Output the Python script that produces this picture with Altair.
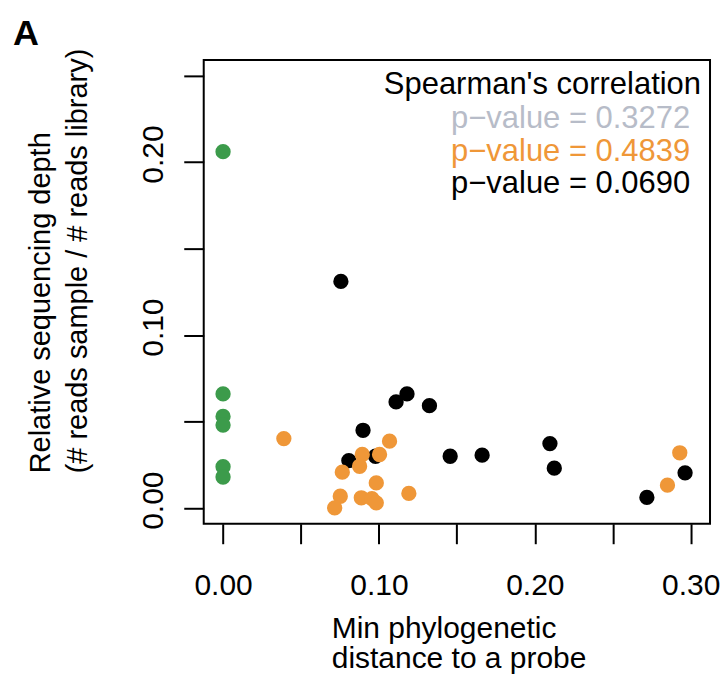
import altair as alt
import pandas as pd

FONT = "Liberation Sans"

# ---- data ----
black_x = [0.0756, 0.0898, 0.0807, 0.0978, 0.111, 0.118, 0.1324, 0.1457, 0.1662, 0.2097, 0.2125, 0.2719, 0.2964]
black_y = [0.131, 0.045, 0.0275, 0.030, 0.0614, 0.066, 0.0592, 0.030, 0.0306, 0.0373, 0.0231, 0.0062, 0.0204]

orange_x = [0.039, 0.1068, 0.1004, 0.0893, 0.0876, 0.0765, 0.0983, 0.0752, 0.0716, 0.0887, 0.0955, 0.0983, 0.1192, 0.293, 0.2851]
orange_y = [0.0402, 0.0387, 0.031, 0.031, 0.0242, 0.0208, 0.0146, 0.0069, 0.0002, 0.006, 0.0055, 0.0031, 0.0085, 0.032, 0.0133]

green_x = [0.0, 0.0, 0.0, 0.0, 0.0, 0.0]
green_y = [0.206, 0.066, 0.053, 0.048, 0.024, 0.018]

series_names = ["black", "orange", "green"]
series_colors = ["#000000", "#ef9738", "#3c9b4b"]

x_ticks = [0.0, 0.05, 0.10, 0.15, 0.20, 0.25, 0.30]
x_labels = ["0.00", "", "0.10", "", "0.20", "", "0.30"]
y_ticks = [0.0, 0.05, 0.10, 0.15, 0.20, 0.25]
y_labels = ["0.00", "", "0.10", "", "0.20", ""]

legend_title = "Spearman's correlation"
legend_lines = ["p\u2212value = 0.3272", "p\u2212value = 0.4839", "p\u2212value = 0.0690"]
legend_colors = ["#b7bcc8", "#ef9738", "#000000"]

x_title = ["Min phylogenetic", "distance to a probe"]
y_title = ["Relative sequencing depth", "(# reads sample / # reads library)"]

# ---- build table ----
rows = []
for name, xs, ys in zip(series_names, [black_x, orange_x, green_x], [black_y, orange_y, green_y]):
    for xv, yv in zip(xs, ys):
        rows.append({"x": xv, "y": yv, "series": name})
df = pd.DataFrame(rows)


def label_expr(labels):
    arr = "[" + ",".join("'" + s + "'" for s in labels) + "]"
    return arr + "[round(datum.value * 20)]"


x_axis = alt.Axis(
    values=x_ticks, labelExpr=label_expr(x_labels), domain=False, grid=False,
    tickSize=20, tickWidth=2, tickColor="black",
    labelFont=FONT, labelFontSize=30, labelColor="black", labelPadding=27,
    title=x_title, titleFont=FONT, titleFontSize=30, titleFontWeight="normal",
    titleColor="black", titleAlign="left", titleBaseline="alphabetic",
    titleX=127.7, titleY=114.3, titleLineHeight=30,
)
y_axis = alt.Axis(
    values=y_ticks, labelExpr=label_expr(y_labels), domain=False, grid=False,
    tickSize=20, tickWidth=2, tickColor="black",
    labelFont=FONT, labelFontSize=30, labelColor="black", labelPadding=21,
    labelAngle=270, labelAlign="center", labelBaseline="alphabetic", labelOffset=-8,
    title=y_title, titleFont=FONT, titleFontSize=29, titleFontWeight="normal",
    titleColor="black", titleAngle=270, titleAlign="left", titleBaseline="alphabetic",
    titleX=-154, titleY=413.5, titleLineHeight=37,
)

points = alt.Chart(df).mark_circle(size=235, opacity=1).encode(
    x=alt.X("x:Q", scale=alt.Scale(domain=[-0.0124, 0.3124], nice=False, zero=False), axis=x_axis),
    y=alt.Y("y:Q", scale=alt.Scale(domain=[-0.009, 0.259], nice=False, zero=False), axis=y_axis),
    color=alt.Color("series:N", scale=alt.Scale(domain=series_names, range=series_colors), legend=None),
)


def text_layer(txt, px, py, color="black", align="left", size=31, weight="normal"):
    return alt.Chart(pd.DataFrame({"t": [txt]})).mark_text(
        font=FONT, fontSize=size, fontWeight=weight, color=color,
        align=align, baseline="alphabetic",
    ).encode(text="t:N", x=alt.value(px), y=alt.value(py))


layers = [points,
          text_layer("A", -191, -14.5, size=36, weight="bold"),
          text_layer(legend_title, 498, 34, align="right")]
legend_y = [68, 101, 133]
for txt, col, yy in zip(legend_lines, legend_colors, legend_y):
    layers.append(text_layer(txt, 247.7, yy, color=col))

chart = alt.layer(*layers).properties(
    width=507, height=464.5,
    autosize=alt.AutoSizeParams(type="none"),
    padding={"left": 196, "top": 51.5, "right": 10, "bottom": 156},
).configure_view(stroke="black", strokeWidth=2)

chart.save("out.html", embed_options={"renderer": "svg", "actions": False})
